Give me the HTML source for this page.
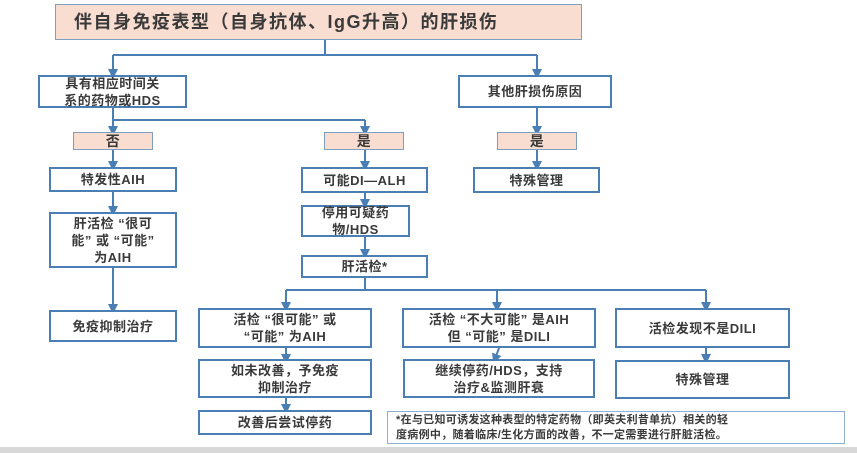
<!DOCTYPE html>
<html><head><meta charset="utf-8"><style>
body{margin:0;width:857px;height:453px;background:#fff;position:relative;overflow:hidden;font-family:"Liberation Sans","Noto Sans CJK SC",sans-serif;font-weight:bold;color:#3a3a3a}
.b{position:absolute;box-sizing:border-box;border:2px solid #4a7fb5;background:#fff;display:flex;align-items:center;justify-content:center;text-align:center;font-size:13px;line-height:17px;letter-spacing:0.5px}
.p{background:#f9ddd0;border:1.5px solid #7f9fc0}
svg{position:absolute;left:0;top:0}
</style></head><body>
<svg width="857" height="453">
<defs><marker id="a" markerWidth="5" markerHeight="5" refX="2.5" refY="2.5" orient="auto"><path d="M0,0L5,2.5L0,5z" fill="#4a7fb5"/></marker></defs>
<g stroke="#4a7fb5" stroke-width="2" fill="none">
<path d="M325 40V55M113 55H537"/>
<path d="M113 55V74" marker-end="url(#a)"/><path d="M537 55V74" marker-end="url(#a)"/>
<path d="M113 108V120H365"/>
<path d="M113 120V131" marker-end="url(#a)"/><path d="M365 120V131" marker-end="url(#a)"/>
<path d="M537 108V131" marker-end="url(#a)"/>
<path d="M113 150V166" marker-end="url(#a)"/><path d="M365 150V166" marker-end="url(#a)"/><path d="M537 150V166" marker-end="url(#a)"/>
<path d="M113 192V211" marker-end="url(#a)"/><path d="M113 268V309" marker-end="url(#a)"/>
<path d="M365 193V204" marker-end="url(#a)"/><path d="M365 237V254" marker-end="url(#a)"/>
<path d="M365 278V290M286 290H706"/>
<path d="M286 290V307" marker-end="url(#a)"/><path d="M497 290V307" marker-end="url(#a)"/><path d="M706 290V307" marker-end="url(#a)"/>
<path d="M286 348V359" marker-end="url(#a)"/><path d="M499 348L495 359" marker-end="url(#a)"/><path d="M706 348V359" marker-end="url(#a)"/>
<path d="M286 398V409" marker-end="url(#a)"/>
</g>
<rect x="0" y="447" width="857" height="6" fill="#d8d8d8"/>
</svg>
<div class="b p" style="left:55px;top:4px;width:527px;height:36px;font-size:18px;letter-spacing:1.5px;justify-content:flex-start;padding-left:18px">伴自身免疫表型（自身抗体、IgG升高）的肝损伤</div>
<div class="b" style="left:38px;top:75px;width:149px;height:33px">具有相应时间关<br>系的药物或HDS</div>
<div class="b" style="left:458px;top:75px;width:154px;height:33px">其他肝损伤原因</div>
<div class="b p" style="left:73px;top:132px;width:80px;height:18px;font-size:14px">否</div>
<div class="b p" style="left:324px;top:132px;width:80px;height:18px;font-size:14px">是</div>
<div class="b p" style="left:497px;top:132px;width:80px;height:18px;font-size:14px">是</div>
<div class="b" style="left:49px;top:167px;width:128px;height:25px">特发性AIH</div>
<div class="b" style="left:301px;top:167px;width:127px;height:26px">可能DI—ALH</div>
<div class="b" style="left:473px;top:167px;width:127px;height:26px">特殊管理</div>
<div class="b" style="left:49px;top:212px;width:128px;height:56px">肝活检 “很可<br>能” 或 “可能”<br>为AIH</div>
<div class="b" style="left:301px;top:205px;width:109px;height:32px">停用可疑药<br>物/HDS</div>
<div class="b" style="left:301px;top:255px;width:127px;height:23px">肝活检*</div>
<div class="b" style="left:49px;top:310px;width:128px;height:32px">免疫抑制治疗</div>
<div class="b" style="left:198px;top:308px;width:174px;height:40px">活检 “很可能” 或<br>“可能” 为AIH</div>
<div class="b" style="left:402px;top:308px;width:194px;height:40px">活检 “不大可能” 是AIH<br>但 “可能” 是DILI</div>
<div class="b" style="left:615px;top:308px;width:175px;height:40px">活检发现不是DILI</div>
<div class="b" style="left:198px;top:359px;width:174px;height:39px">如未改善，予免疫<br>抑制治疗</div>
<div class="b" style="left:403px;top:359px;width:192px;height:39px">继续停药/HDS，支持<br>治疗&amp;监测肝衰</div>
<div class="b" style="left:615px;top:360px;width:175px;height:39px">特殊管理</div>
<div class="b" style="left:198px;top:410px;width:174px;height:25px">改善后尝试停药</div>
<div class="b" style="left:387px;top:411px;width:458px;height:33px;border:1.5px solid #8fb0d0;font-size:11px;line-height:15px;letter-spacing:0.3px;justify-content:flex-start;text-align:left;padding-left:8px">*在与已知可诱发这种表型的特定药物（即英夫利昔单抗）相关的轻<br>度病例中，随着临床/生化方面的改善，不一定需要进行肝脏活检。</div>
</body></html>
